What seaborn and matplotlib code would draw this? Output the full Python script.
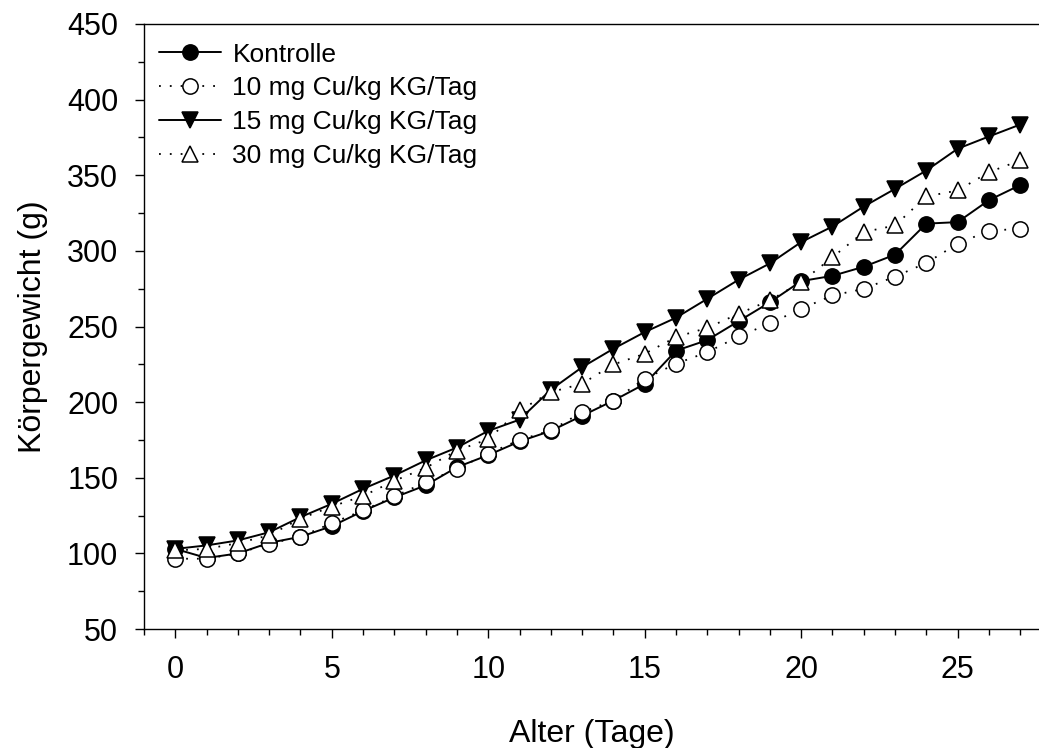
import numpy as np
import pandas as pd
import matplotlib
matplotlib.use("Agg")
import matplotlib.pyplot as plt
import seaborn as sns
from matplotlib.ticker import MultipleLocator

days = list(range(28))
kontrolle = [103, 97, 100, 107, 111, 118, 128, 137, 145, 157, 165, 174, 181, 191, 201, 212,
             234, 241, 253.5, 266, 280, 283.5, 289.5, 297.5, 318, 319, 333.5, 343.5]
cu10 = [96.5, 96.5, 100, 106.4, 111, 120, 128.4, 137.7, 147, 155.9, 166, 175, 181.3, 193.4, 201,
        215.4, 225.4, 233, 243.4, 252, 261.7, 270.5, 274.9, 283, 292, 304.7, 313.3, 314.6]
cu15 = [103, 105.3, 108.6, 114, 124, 132.8, 142.7, 151.5, 161.5, 170, 181, 188.4, 208.2, 223.1,
        235.3, 246.3, 255.8, 268.3, 280.9, 291.7, 305.8, 316.1, 329.3, 341, 353.1, 367.5, 375.6, 383.5]
cu30 = [102, 103, 106.8, 112, 123, 131, 138, 148, 156.6, 168, 175.5, 194.5, 206.6, 212.2, 224.9,
        232, 243, 249.1, 258.4, 267.3, 279.3, 295.8, 312.4, 316.8, 336, 339.9, 352, 359.8]
labels = ["Kontrolle", "10 mg Cu/kg KG/Tag", "15 mg Cu/kg KG/Tag", "30 mg Cu/kg KG/Tag"]

sns.set_style("ticks")
plt.rcParams['font.family'] = ['Liberation Sans', 'DejaVu Sans']
plt.rcParams['text.color'] = 'black'
plt.rcParams['axes.labelcolor'] = 'black'
plt.rcParams['xtick.color'] = 'black'
plt.rcParams['ytick.color'] = 'black'

fig = plt.figure(figsize=(10.39, 7.48), dpi=100)
ax = fig.add_axes([0.1386, 0.159, 0.8614, 0.809])

dotted = (0, (1, 5))
styles = [
    dict(marker='o', mfc='black', mec='black', ls='-', lw=1.4),
    dict(marker='o', mfc='white', mec='black', ls=dotted, lw=1.3),
    dict(marker='v', mfc='black', mec='black', ls='-', lw=1.4),
    dict(marker='^', mfc='white', mec='black', ls=dotted, lw=1.3),
]
series = [kontrolle, cu10, cu15, cu30]
for vals, lab, st in zip(series, labels, styles):
    df = pd.DataFrame({"Tag": days, "Gewicht": vals})
    sns.lineplot(data=df, x="Tag", y="Gewicht", ax=ax, color='black', label=lab,
                 marker=st['marker'], markerfacecolor=st['mfc'], markeredgecolor=st['mec'],
                 markeredgewidth=1.1, markersize=11, linestyle=st['ls'], linewidth=st['lw'],
                 clip_on=False)

ax.set_xlim(-1, 27.6)
ax.set_ylim(50, 450)
ax.xaxis.set_major_locator(MultipleLocator(5))
ax.xaxis.set_minor_locator(MultipleLocator(1))
ax.yaxis.set_major_locator(MultipleLocator(50))
ax.yaxis.set_minor_locator(MultipleLocator(25))
ax.tick_params(axis='both', which='major', direction='out', length=6.5, width=1.0, labelsize=22,
               color='black', labelcolor='black')
ax.tick_params(axis='both', which='minor', direction='out', length=4, width=1.0, color='black')
ax.tick_params(axis='y', which='major', pad=12)
ax.tick_params(axis='x', which='major', pad=12)
for s in ['left', 'bottom', 'top']:
    ax.spines[s].set_color('black')
    ax.spines[s].set_linewidth(1.0)
ax.spines['right'].set_visible(False)

ax.set_xlabel("Alter (Tage)", fontsize=23, labelpad=25, color='black')
ax.set_ylabel("Körpergewicht (g)", fontsize=23, labelpad=14, color='black')

leg = ax.legend(loc='upper left', frameon=False, fontsize=19, handlelength=2.35,
                handletextpad=0.45, labelspacing=0.37, borderaxespad=0.15,
                bbox_to_anchor=(0.0, 0.993))
for t in leg.get_texts():
    t.set_color('black')

fig.savefig("out.png", dpi=100)
